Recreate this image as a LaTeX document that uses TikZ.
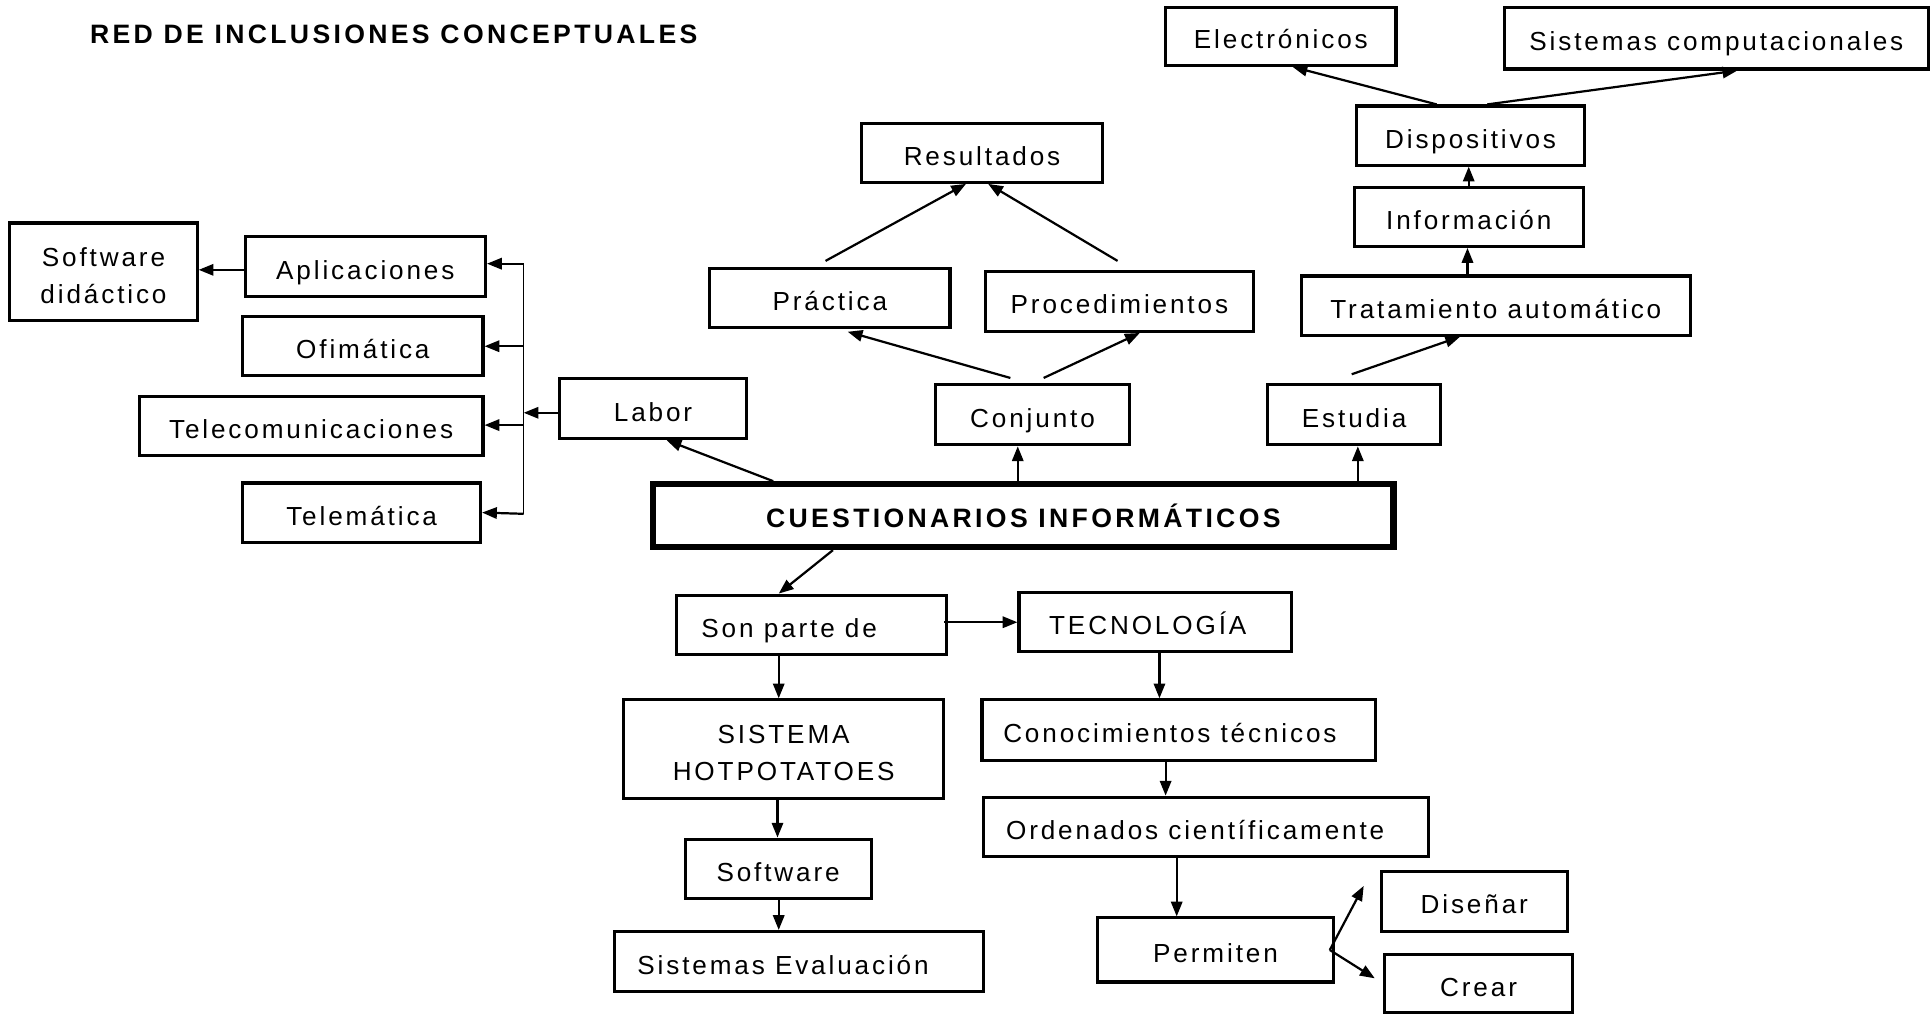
\documentclass[tikz,border=0pt]{standalone}
\usepackage{fontspec}
\setmainfont{Liberation Sans}
\newfontfamily\boxfont{Liberation Sans}[LetterSpace=11]
\newfontfamily\headfont{Liberation Sans}[LetterSpace=12.5]
\usetikzlibrary{arrows.meta}
% \mkbox[style]{name}{x1}{y1}{x2}{y2}{text}
\newcommand\mkbox[7][box]{%
  \node[#1,minimum width={(#5-#3)*0.5pt},minimum height={(#6-#4)*0.5pt}]
    (#2) at ({(#3+#5)/2},{(#4+#6)/2}) {#7};}
\begin{document}
\begin{tikzpicture}[x=0.5pt,y=-0.5pt,
  boxbase/.style={draw,line width=1.25pt,inner sep=0pt,align=center,
    font=\boxfont\fontsize{10.6}{15}\selectfont},
  box/.style={boxbase,text height=10.2pt,text depth=0pt},
  box2/.style={boxbase},
  mainbox/.style={draw,line width=2.5pt,inner sep=0pt,align=center,
    font=\headfont\bfseries\fontsize{10.8}{12}\selectfont},
  conn/.style={line width=0.9pt,-{Triangle[length=6pt,width=4.6pt]}},
  barline/.style={line width=0.6pt},
]
\useasboundingbox (0,0) rectangle (1568,824);

\node[anchor=west,font=\headfont\bfseries\fontsize{10.8}{12}\selectfont] (title) at (66,28) {RED DE INCLUSIONES CONCEPTUALES};

% top right
\mkbox{elec}{946}{6}{1133}{53}{Electrónicos}
\mkbox{sc}{1221}{6}{1565}{56}{Sistemas computacionales}
\mkbox{disp}{1101}{86}{1286}{134}{Dispositivos}
\mkbox{inf}{1099}{152}{1285}{200}{Información}
\mkbox{trat}{1056}{224}{1372}{272}{Tratamiento automático}
% top middle
\mkbox{res}{699}{100}{895}{148}{Resultados}
\mkbox{prac}{576}{218}{771}{266}{Práctica}
\mkbox{proc}{800}{220}{1017}{269}{Procedimientos}
% left
\mkbox[box2]{sd}{8}{181}{160}{260}{\rule{0pt}{10.7pt}Software\\didáctico}
\mkbox{apl}{199}{192}{394}{241}{Aplicaciones}
\mkbox{ofi}{197}{257}{392}{305}{Ofimática}
\mkbox{tel}{113}{322}{392}{370}{Telecomunicaciones}
\mkbox{tmt}{197}{392}{390}{440}{Telemática}
% middle row
\mkbox{labor}{454}{307}{606}{356}{Labor}
\mkbox{conj}{759}{312}{917}{361}{Conjunto}
\mkbox{est}{1029}{312}{1169}{361}{Estudia}
\mkbox[mainbox]{cuest}{530}{393}{1131}{444}{CUESTIONARIOS INFORMÁTICOS}
% bottom
\mkbox{son}{549}{483}{768}{531}{Son parte de\hspace*{18pt}}
\mkbox{tec}{827}{481}{1048}{529}{TECNOLOGÍA\hspace*{6pt}}
\mkbox[box2]{sis}{506}{568}{766}{648}{\rule{0pt}{10.7pt}SISTEMA\\HOTPOTATOES}
\mkbox{con}{797}{568}{1116}{617}{Conocimientos técnicos\hspace*{7pt}}
\mkbox{sw}{556}{681}{707}{729}{Software}
\mkbox{ord}{798}{647}{1159}{695}{Ordenados científicamente\hspace*{8.5pt}}
\mkbox{sev}{499}{756}{798}{805}{Sistemas Evaluación\hspace*{13pt}}
\mkbox{per}{891}{745}{1082}{797}{Permiten}
\mkbox{dis}{1121}{707}{1272}{756}{Diseñar}
\mkbox{cre}{1124}{775}{1276}{822}{Crear}

% bar on the left
\coordinate (barTop) at (425,214);
\coordinate (barOfi) at (425,281);
\coordinate (barLab) at (425,335);
\coordinate (barTel) at (425,345);
\coordinate (barBot) at (425,417);
\draw[barline] (barTop) -- (barBot);

% connectors
\draw[conn] ([xshift=50pt]cuest.north west) -- ([xshift=5.5pt]labor.south);
\draw[conn] ([xshift=-2.25pt]cuest.north) -- ([xshift=-6pt]conj.south);
\draw[conn] ([xshift=135.75pt]cuest.north) -- ([xshift=1.5pt]est.south);
\draw[conn] ([xshift=-77.25pt]cuest.south) -- ([xshift=-13.25pt]son.north);
\draw[conn] ([xshift=-1.5pt,yshift=1pt]son.east) -- (tec.west);
\draw[conn] ([xshift=-13.25pt]son.south) -- ([xshift=-2pt]sis.north);
\draw[conn] ([xshift=-2.5pt]sis.south) -- ([xshift=-0.25pt]sw.north);
\draw[conn] ([xshift=0.25pt]sw.south) -- ([xshift=-8.25pt]sev.north);
\draw[conn] ([xshift=1.75pt]tec.south) -- ([xshift=-7.75pt]con.north);
\draw[conn] ([xshift=-5.25pt]con.south) -- ([xshift=-16.25pt]ord.north);
\draw[conn] ([xshift=-11.75pt]ord.south) -- ([xshift=-15.75pt]per.north);
\draw[conn] ([xshift=-2pt]per.east) -- ([xshift=-6.5pt,yshift=6.25pt]dis.west);
\draw[conn] ([xshift=-2pt]per.east) -- ([xshift=-3.5pt,yshift=2.25pt]cre.west);
\draw[conn] ([xshift=-9pt,yshift=2pt]conj.north) -- ([xshift=7.25pt,yshift=-1pt]prac.south);
\draw[conn] ([xshift=4.5pt,yshift=2pt]conj.north) -- ([xshift=8.25pt]proc.south);
\draw[conn] ([xshift=-1.75pt,yshift=2.5pt]prac.north) -- ([xshift=-6.5pt]res.south);
\draw[conn] ([xshift=-0.75pt,yshift=3.5pt]proc.north) -- ([xshift=2.5pt]res.south);
\draw[conn] ([xshift=-1pt,yshift=3.5pt]est.north) -- ([xshift=-14.5pt]trat.south);
\draw[conn] ([xshift=-11.5pt]trat.north) -- ([xshift=-0.5pt]inf.south);
\draw[conn] (inf.north) -- ([xshift=-0.75pt]disp.south);
\draw[conn] ([xshift=-13.75pt]disp.north) -- ([xshift=4.75pt]elec.south);
\draw[conn] ([xshift=6.75pt]disp.north) -- ([xshift=8.5pt]sc.south);
\draw[conn] ([yshift=-1.75pt]labor.west) -- (barLab);
\draw[conn] (barTop) -- ([yshift=1.25pt]apl.east);
\draw[conn] (barOfi) -- (ofi.east);
\draw[conn] (barTel) -- ([yshift=0.5pt]tel.east);
\draw[conn] (barBot) -- (tmt.east);
\draw[conn] ([yshift=-1.25pt]apl.west) -- ([yshift=0.75pt]sd.east);
\end{tikzpicture}
\end{document}
